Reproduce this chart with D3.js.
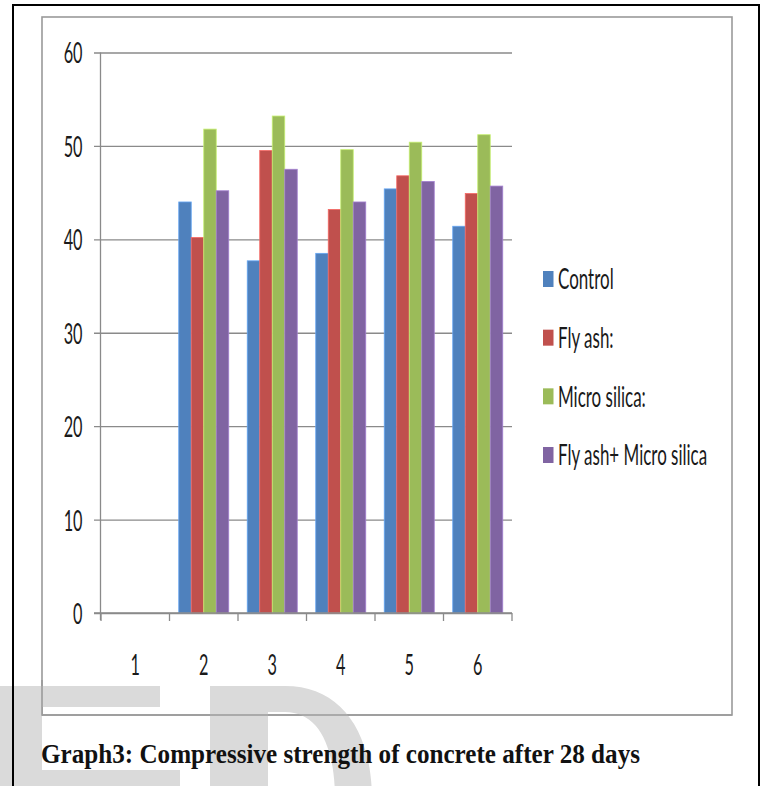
<!DOCTYPE html>
<html>
<head>
<meta charset="utf-8">
<script src="https://cdn.jsdelivr.net/npm/d3@7/dist/d3.min.js"></script>
<style>
  html, body { margin: 0; padding: 0; background: #fff; }
  svg { display: block; }
</style>
</head>
<body>
<svg id="chart" width="763" height="786"></svg>
<script>
// Compressive strength (MPa) after 28 days, per mix
const categories = ["1", "2", "3", "4", "5", "6"];
const seriesNames = ["Control", "Fly ash:", "Micro silica:", "Fly ash+ Micro silica"];
const control = [null, 44.0, 37.7, 38.5, 45.4, 41.4];
const flyAsh = [null, 40.2, 49.5, 43.2, 46.8, 44.9];
const microSilica = [null, 51.8, 53.2, 49.6, 50.4, 51.2];
const flyAshMicroSilica = [null, 45.2, 47.5, 44.0, 46.2, 45.7];
const yTicks = [0, 10, 20, 30, 40, 50, 60];
const seriesColors = ["#4F81BD", "#C0504D", "#9BBB59", "#8064A2"];
const captionText = "Graph3: Compressive strength of concrete after 28 days";

const seriesValues = [control, flyAsh, microSilica, flyAshMicroSilica];

const svg = d3.select("#chart");
const labelFont = "Lato, 'Open Sans', 'Liberation Sans', sans-serif";
const fontSize = 29;
const squeeze = 0.56;
const legendSqueeze = 0.585;

// page frame
svg.append("path")
  .attr("d", "M13,786 V5 H759 V786")
  .attr("fill", "none")
  .attr("stroke", "#000")
  .attr("stroke-width", 2);

// chart area
svg.append("rect")
  .attr("x", 42).attr("y", 17).attr("width", 690).attr("height", 698)
  .attr("fill", "#fff")
  .attr("stroke", "#9a9a9a")
  .attr("stroke-width", 1.6);

const x0 = d3.scaleBand().domain(categories).range([101, 512]).padding(0);
const x1 = d3.scaleBand().domain(seriesNames).range([0, x0.bandwidth()])
  .paddingInner(0).paddingOuter(0.74);
const y = d3.scaleLinear().domain([0, 60]).range([613, 52.5]);

// y axis with gridlines
const yAxis = d3.axisLeft(y).tickValues(yTicks).tickSizeOuter(0).tickFormat(d3.format("d"));
const gy = svg.append("g").attr("transform", "translate(100.5,0)").call(yAxis);
gy.select(".domain").attr("d", `M0,${y(60)}V${y(0) + 7}`).attr("stroke", "#8a8a8a").attr("stroke-width", 1.3);
gy.selectAll(".tick line")
  .attr("x1", -6.5).attr("x2", 512 - 100.5)
  .attr("stroke", "#8a8a8a").attr("stroke-width", 1.4);
gy.selectAll(".tick text")
  .attr("x", 0).attr("dy", null)
  .attr("y", fontSize * 0.36)
  .attr("transform", `translate(-18,0) scale(${squeeze},1)`)
  .attr("text-anchor", "end")
  .attr("fill", "#1a1a1a")
  .style("font-family", labelFont)
  .style("font-size", fontSize + "px");

// x axis boundary ticks
const boundaries = categories.map(c => x0(c)).concat([x0.range()[1]]);
svg.append("g").selectAll("line").data(boundaries).join("line")
  .attr("x1", d => d).attr("x2", d => d)
  .attr("y1", y(0)).attr("y2", y(0) + 8)
  .attr("stroke", "#8a8a8a").attr("stroke-width", 1.3);

svg.append("g").selectAll("text").data(categories).join("text")
  .attr("transform", d => `translate(${x0(d) + x0.bandwidth() / 2},${665 + fontSize * 0.36}) scale(${squeeze},1)`)
  .attr("text-anchor", "middle")
  .attr("fill", "#1a1a1a")
  .style("font-family", labelFont)
  .style("font-size", fontSize + "px")
  .text(d => d);

// bars
const barData = [];
categories.forEach((c, i) => {
  seriesNames.forEach((s, j) => {
    const v = seriesValues[j][i];
    if (v != null) barData.push({ c, s, v, color: seriesColors[j] });
  });
});
svg.append("g").selectAll("rect").data(barData).join("rect")
  .attr("x", d => x0(d.c) + x1(d.s))
  .attr("y", d => y(d.v))
  .attr("width", x1.bandwidth())
  .attr("height", d => y(0) - y(d.v))
  .attr("fill", d => d.color)
  .attr("stroke", d => d3.color(d.color).brighter(0.7))
  .attr("stroke-width", 0.8);

// redraw x axis base line on top
svg.append("line")
  .attr("x1", 94).attr("x2", 512).attr("y1", y(0)).attr("y2", y(0))
  .attr("stroke", "#8a8a8a").attr("stroke-width", 1.4);

// legend
const legendY = d3.scalePoint().domain(seriesNames).range([279, 455]);
const lg = svg.append("g").selectAll("g").data(seriesNames).join("g")
  .attr("transform", d => `translate(543,${legendY(d)})`);
lg.append("rect")
  .attr("x", 0).attr("y", -8).attr("width", 10.5).attr("height", 16)
  .attr("fill", (d, i) => seriesColors[i]);
lg.append("text")
  .attr("transform", `translate(15,${fontSize * 0.36}) scale(${legendSqueeze},1)`)
  .attr("fill", "#1a1a1a")
  .style("font-family", labelFont)
  .style("font-size", fontSize + "px")
  .text(d => d);

// light background lettering along the bottom edge
const wm = "#dadada";
svg.append("path")
  .attr("d", "M0,686 H160 V707 H42 V770 H180 V786 H0 Z")
  .attr("fill", wm);
svg.append("rect")
  .attr("x", 42).attr("y", 716).attr("width", 165).attr("height", 54)
  .attr("fill", "#fff");
svg.append("path")
  .attr("d", "M210,686 H285 C340,686 372,730 372,800 V830 H210 Z M268,712 V830 H335 V800 C335,745 318,712 285,712 Z")
  .attr("fill", wm)
  .attr("fill-rule", "evenodd");

// redraw frame edge over the lettering
svg.append("line").attr("x1", 13).attr("x2", 13).attr("y1", 5).attr("y2", 786)
  .attr("stroke", "#000").attr("stroke-width", 2);
svg.append("line").attr("x1", 42).attr("x2", 42).attr("y1", 680).attr("y2", 715.8)
  .attr("stroke", "#9a9a9a").attr("stroke-width", 1.6);
svg.append("line").attr("x1", 42).attr("x2", 732).attr("y1", 715).attr("y2", 715)
  .attr("stroke", "#9a9a9a").attr("stroke-width", 1.6);

// caption
svg.append("text")
  .attr("x", 41).attr("y", 763)
  .attr("textLength", 599)
  .attr("lengthAdjust", "spacingAndGlyphs")
  .attr("fill", "#111")
  .style("font-family", "'Liberation Serif', 'Times New Roman', serif")
  .style("font-weight", "bold")
  .style("font-size", "27px")
  .text(captionText);
</script>
</body>
</html>
